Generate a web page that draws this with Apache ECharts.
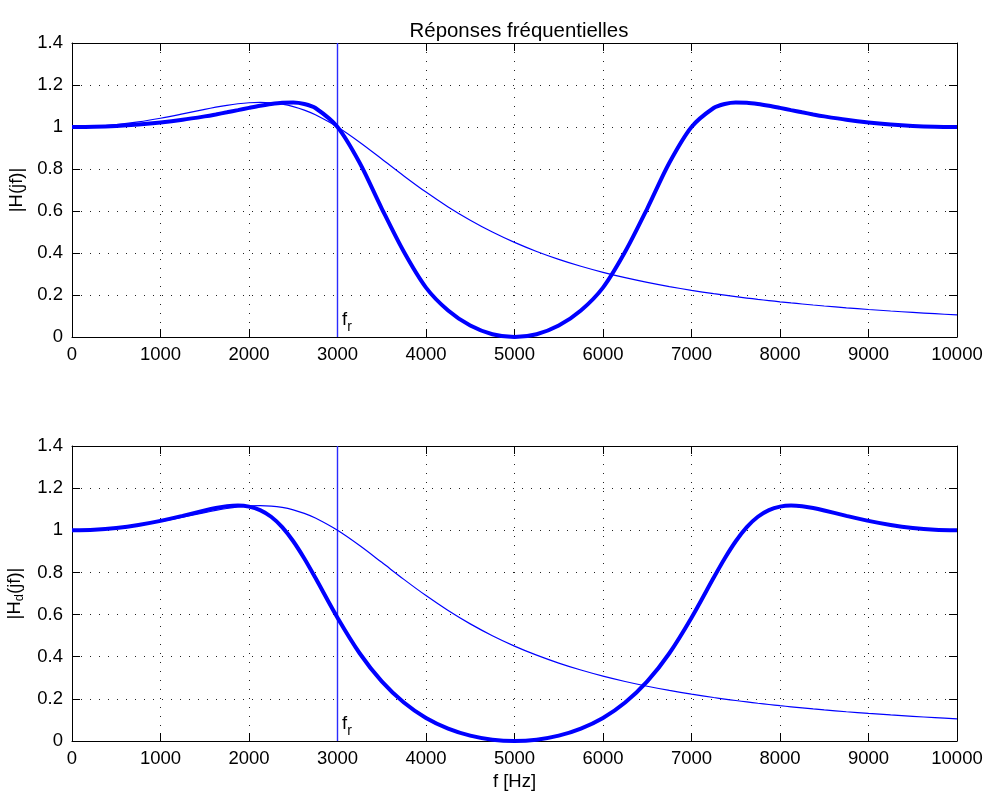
<!DOCTYPE html>
<html>
<head>
<meta charset="utf-8">
<script src="https://cdn.jsdelivr.net/npm/echarts@6/dist/echarts.min.js"></script>
<style>html,body{margin:0;padding:0;background:#fff;}#c{width:986px;height:791px;}</style>
</head>
<body>
<div id="c"></div>
<script>
// ---- data ----
const title = 'Réponses fréquentielles';
const freq = [0,250,500,750,1000,1250,1500,1625,1750,1875,2000,2125,2250,2375,2500,2625,2750,3000,3250,3500,3750,4000,4250,4500,4750,5000,
  5250,5500,5750,6000,6250,6500,6750,7000,7250,7375,7500,7625,7750,7875,8000,8125,8250,8375,8500,8750,9000,9250,9500,9750,10000];
// analog response |H(jf)| (thin)
const analog = [1,1.0028,1.0109,1.0242,1.0418,1.0625,1.0841,1.0943,1.1034,1.1107,1.1156,1.1173,1.1151,1.1085,1.0969,1.0801,1.0581,1.0,0.9276,0.8479,0.7671,0.6900,0.6192,0.5558,0.4996,0.4504,
  0.4074,0.3698,0.3368,0.3079,0.2825,0.2600,0.2400,0.2222,0.2063,0.1990,0.1921,0.1855,0.1792,0.1733,0.1677,0.1623,0.1572,0.1523,0.1476,0.1389,0.1310,0.1237,0.1170,0.1109,0.1052];
// digital response, top panel (thick)
const digitalTop = [1,1.0013,1.0052,1.0120,1.0216,1.0345,1.0507,1.0599,1.0699,1.0804,1.0910,1.1012,1.1100,1.1160,1.1169,1.1097,1.0905,1.0,0.8294,0.6118,0.4055,0.2350,0.1260,0.0545,0.0132,0,
  0.0132,0.0545,0.1260,0.2350,0.4055,0.6118,0.8294,1.0,1.0905,1.1097,1.1169,1.1160,1.1100,1.1012,1.0910,1.0804,1.0699,1.0599,1.0507,1.0345,1.0216,1.0120,1.0052,1.0013,1];
// digital response, bottom panel (thick)
const digitalBottom = [1,1.0028,1.0111,1.0251,1.0445,1.0685,1.0941,1.1055,1.1140,1.1173,1.1124,1.0958,1.0641,1.0149,0.9480,0.8662,0.7745,0.5850,0.4165,0.2827,0.1825,0.1091,0.0588,0.0253,0.0062,0,
  0.0062,0.0253,0.0588,0.1091,0.1825,0.2827,0.4165,0.5850,0.7745,0.8662,0.9480,1.0149,1.0641,1.0958,1.1124,1.1173,1.1140,1.1055,1.0941,1.0685,1.0445,1.0251,1.0111,1.0028,1];
const fr = 3000;
const yNames = ['|H(jf)|', '|H{sub|d}(jf)|'];
const xName = 'f [Hz]';
const xMin = 0, xMax = 10000, xStep = 1000;
const yMin = 0, yMax = 1.4, yStep = 0.2;

// ---- chart ----
const FONT = 'Liberation Sans, Arial, Helvetica, sans-serif';
const FS = 18.5;
const BLUE = '#0000ff';
const chart = echarts.init(document.getElementById('c'), null, {renderer: 'canvas'});

const grids = [
  {left: 72, right: 29, top: 43, height: 294, outerBoundsMode: 'none', containLabel: false},
  {left: 72, right: 29, top: 446, height: 295, outerBoundsMode: 'none', containLabel: false}
];
const xAxes = [], yAxes = [];
for (let g = 0; g < 2; g++) {
  xAxes.push({
    type: 'value', gridIndex: g, position: 'bottom', min: xMin, max: xMax, interval: xStep,
    axisLine: {show: true, onZero: false, lineStyle: {color: '#000', width: 1}},
    axisTick: {show: true, inside: true, length: 8, lineStyle: {color: '#000'}},
    axisLabel: {show: true, color: '#000', fontFamily: FONT, fontSize: FS, margin: 8,
      formatter: v => String(v)},
    splitLine: {show: true, lineStyle: {color: '#222', type: [1, 8], width: 1}},
    name: g === 1 ? xName : '', nameLocation: 'middle', nameGap: 31,
    nameTextStyle: {color: '#000', fontFamily: FONT, fontSize: FS}
  });
  xAxes.push({
    type: 'value', gridIndex: g, position: 'top', min: xMin, max: xMax, interval: xStep,
    axisLine: {show: true, onZero: false, lineStyle: {color: '#000', width: 1}},
    axisTick: {show: true, inside: true, length: 8, lineStyle: {color: '#000'}},
    axisLabel: {show: false}, splitLine: {show: false}
  });
  yAxes.push({
    type: 'value', gridIndex: g, position: 'left', min: yMin, max: yMax, interval: yStep,
    axisLine: {show: true, onZero: false, lineStyle: {color: '#000', width: 1}},
    axisTick: {show: true, inside: true, length: 8, lineStyle: {color: '#000'}},
    axisLabel: {show: true, color: '#000', fontFamily: FONT, fontSize: FS, margin: 9,
      formatter: v => String(Math.round(v * 10) / 10)},
    splitLine: {show: true, lineStyle: {color: '#222', type: [1, 8], width: 1}},
    name: yNames[g], nameLocation: 'middle', nameGap: 40, nameRotate: 90,
    nameTextStyle: {color: '#000', fontFamily: FONT, fontSize: FS,
      rich: {sub: {fontFamily: FONT, fontSize: 13, color: '#000', padding: [9, 0, 0, 0], verticalAlign: 'bottom'}}}
  });
  yAxes.push({
    type: 'value', gridIndex: g, position: 'right', min: yMin, max: yMax, interval: yStep,
    axisLine: {show: true, onZero: false, lineStyle: {color: '#000', width: 1}},
    axisTick: {show: true, inside: true, length: 8, lineStyle: {color: '#000'}},
    axisLabel: {show: false}, splitLine: {show: false}
  });
}

function pairs(ys) { return freq.map((f, i) => [f, ys[i]]); }
const series = [];
const thick = [digitalTop, digitalBottom];
for (let g = 0; g < 2; g++) {
  // vertical marker at f_r
  series.push({
    type: 'line', xAxisIndex: 2 * g, yAxisIndex: 2 * g, silent: true, z: 2,
    showSymbol: false, lineStyle: {color: '#2b2bff', width: 1.4},
    data: [[fr, yMin], [fr, yMax]]
  });
  // f_r label
  series.push({
    type: 'scatter', xAxisIndex: 2 * g, yAxisIndex: 2 * g, silent: true, z: 6,
    symbol: 'circle', symbolSize: 1, itemStyle: {color: '#ffffff', opacity: 0},
    data: [[fr, yMin]],
    label: {show: true, position: [5, -2], align: 'left', verticalAlign: 'bottom',
      color: '#000', opacity: 1, fontFamily: FONT, fontSize: FS,
      formatter: 'f{r|r}',
      rich: {r: {fontFamily: FONT, fontSize: 14, color: '#000', verticalAlign: 'bottom', padding: [16, 0, 0, 0]}}}
  });
  series.push({
    type: 'line', xAxisIndex: 2 * g, yAxisIndex: 2 * g, data: pairs(analog),
    showSymbol: false, smooth: 0.3, lineStyle: {color: BLUE, width: 1.2}, silent: true, z: 3
  });
  series.push({
    type: 'line', xAxisIndex: 2 * g, yAxisIndex: 2 * g, data: pairs(thick[g]),
    showSymbol: false, smooth: 0.3, lineStyle: {color: BLUE, width: 4}, silent: true, z: 4
  });
}

chart.setOption({
  backgroundColor: '#fff',
  animation: false,
  title: {text: title, left: 514, textAlign: 'center', top: 16,
    textStyle: {color: '#000', fontFamily: FONT, fontSize: 20.4, fontWeight: 'normal'}},
  grid: grids,
  xAxis: xAxes,
  yAxis: yAxes,
  series: series
});
</script>
</body>
</html>
